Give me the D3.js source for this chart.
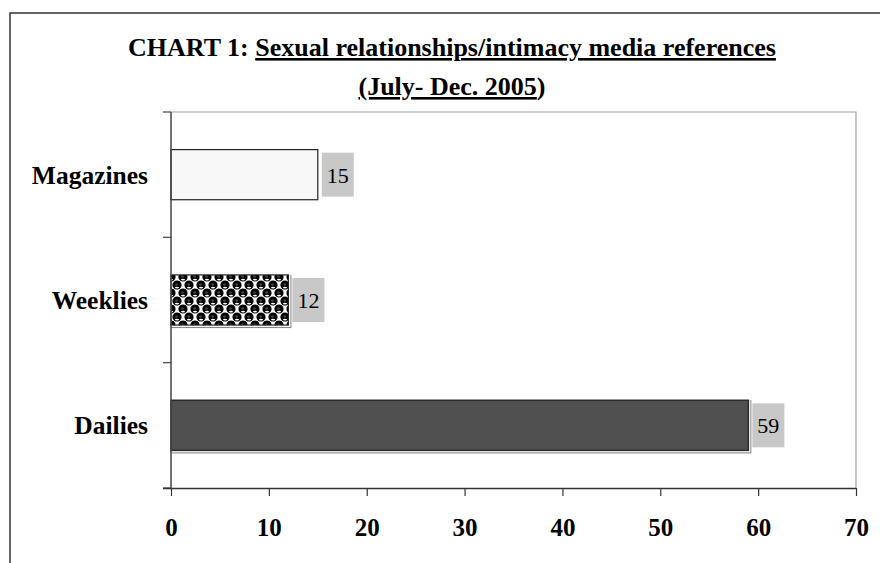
<!DOCTYPE html>
<html><head><meta charset="utf-8">
<script src="https://cdn.jsdelivr.net/npm/d3@7"></script>
<style>body{margin:0;background:#fff}svg{display:block}text{font-family:"Liberation Serif","Times New Roman",serif}</style>
</head><body>
<svg id="c" width="880" height="563"></svg>
<script>
const categories = ["Magazines", "Weeklies", "Dailies"];
const values = [15, 12, 59];
const xTicks = [0, 10, 20, 30, 40, 50, 60, 70];
const titlePlain = "CHART 1: ";
const titleUnder1 = "Sexual relationships/intimacy media references ";
const titleUnder2 = "(July- Dec. 2005";
const titleEnd = ")";

const svg = d3.select("#c");
const plot = {left: 171, right: 856, top: 112, bottom: 488};

// outer frame
svg.append("rect").attr("x", 10).attr("y", 13).attr("width", 900).attr("height", 600)
  .attr("fill", "none").attr("stroke", "#333").attr("stroke-width", 1.5);

// pattern for weeklies
const defs = svg.append("defs");
const pat = defs.append("pattern").attr("id", "dots").attr("patternUnits", "userSpaceOnUse")
  .attr("width", 12).attr("height", 16).attr("x", 168).attr("y", 273);
pat.append("rect").attr("width", 12).attr("height", 16).attr("fill", "#fff");
[[3, 4], [9, 12], [15, 4], [-3, 12], [3, 20], [9, -4]].forEach(([cx, cy]) => {
  pat.append("circle").attr("cx", cx).attr("cy", cy).attr("r", 4.6).attr("fill", "#000");
  pat.append("ellipse").attr("cx", cx).attr("cy", cy + 2.6).attr("rx", 2).attr("ry", 0.9).attr("fill", "#fff");
  pat.append("circle").attr("cx", cx - 0.5).attr("cy", cy - 0.5).attr("r", 1.3).attr("fill", "#444");
});

const x = d3.scaleLinear().domain([0, 70]).range([plot.left, plot.right]);
const y = d3.scaleBand().domain(categories).range([plot.top, plot.bottom]).paddingInner(0.6).paddingOuter(0.3);
const yb = d3.scaleBand().domain(categories).range([plot.top, plot.bottom]);

// plot border (top/right)
svg.append("path").attr("d", `M${plot.left},${plot.top}H${plot.right}V${plot.bottom}`)
  .attr("fill", "none").attr("stroke", "#a0a0a0").attr("stroke-width", 1.2);

// bars
const fills = ["#f8f8f8", "url(#dots)", "#505050"];
categories.forEach((c, i) => {
  const x0 = x(0), w = x(values[i]) - x(0), y0 = y(c), h = y.bandwidth();
  const g = svg.append("g");
  if (i > 0) {
    g.append("rect").attr("x", x0).attr("y", y0).attr("width", w + 3).attr("height", h + 3).attr("fill", "#808080");
    g.append("rect").attr("x", x0).attr("y", y0).attr("width", w + 2).attr("height", h + 2).attr("fill", "#fff");
  }
  g.append("rect").attr("x", x0).attr("y", y0).attr("width", w).attr("height", h)
    .attr("fill", fills[i]).attr("stroke", i === 2 ? "#2a2a2a" : "#222").attr("stroke-width", i === 2 ? 1.5 : 1.2);
  const bx = x(values[i]) + 4, bh = 44, bw = 32, by = y0 + h / 2 - bh / 2;
  svg.append("rect").attr("x", bx).attr("y", by).attr("width", bw).attr("height", bh).attr("fill", "#c8c8c8");
  svg.append("text").attr("x", bx + bw / 2).attr("y", y0 + h / 2 + 8).attr("text-anchor", "middle")
    .attr("font-size", 22).attr("fill", "#000").text(values[i]);
});

// y axis
svg.append("line").attr("x1", plot.left).attr("x2", plot.left).attr("y1", plot.top).attr("y2", plot.bottom)
  .attr("stroke", "#444").attr("stroke-width", 1.5);
const yTickPos = categories.map(c => yb(c)).concat([plot.bottom]);
yTickPos.forEach(p => svg.append("line").attr("x1", plot.left - 8).attr("x2", plot.left).attr("y1", p).attr("y2", p)
  .attr("stroke", "#444").attr("stroke-width", 1.2));
categories.forEach(c => svg.append("text").attr("x", 148).attr("y", y(c) + y.bandwidth() / 2 + 9)
  .attr("text-anchor", "end").attr("font-size", 25.5).attr("font-weight", "bold").text(c));

// x axis
const xa = svg.append("g").attr("transform", `translate(0,${plot.bottom})`)
  .call(d3.axisBottom(x).tickValues(xTicks).tickSize(8).tickSizeOuter(0).tickPadding(22));
xa.select(".domain").attr("stroke", "#333").attr("stroke-width", 1.5).attr("d", `M${plot.left - 8},0.5H${plot.right}`);
xa.selectAll(".tick line").attr("stroke", "#333").attr("stroke-width", 1.2);
xa.selectAll(".tick text").attr("font-size", 25).attr("font-weight", "bold").attr("fill", "#000")
  .attr("font-family", "Liberation Serif, Times New Roman, serif");

// title
const t1 = svg.append("text").attr("x", 452).attr("y", 56).attr("text-anchor", "middle")
  .attr("font-size", 26).attr("font-weight", "bold");
t1.append("tspan").text(titlePlain);
t1.append("tspan").style("text-decoration", "underline").text(titleUnder1);
const t2 = svg.append("text").attr("x", 452).attr("y", 95).attr("text-anchor", "middle")
  .attr("font-size", 26).attr("font-weight", "bold");
t2.append("tspan").style("text-decoration", "underline").text(titleUnder2);
t2.append("tspan").text(titleEnd);
</script>
</body></html>
